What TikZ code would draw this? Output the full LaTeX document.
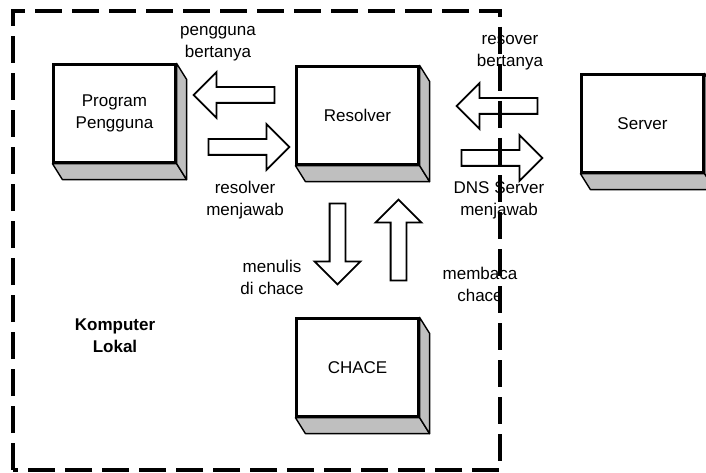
\documentclass[tikz,border=0pt]{standalone}
\usepackage{fontspec}
\setmainfont{Liberation Sans}
\usetikzlibrary{calc,shapes.arrows}

\tikzset{
  every node/.style={font=\fontsize{17}{22}\selectfont},
  box/.style={draw,line width=2.2pt,fill=white,minimum width=122pt,minimum height=98pt,inner sep=0pt},
  slab/.style={draw,line width=1.4pt,fill=black!25,line join=round},
  blockarrow/.style={single arrow,draw,line width=1.8pt,fill=white,inner xsep=0pt,inner ysep=7pt,
    single arrow head extend=15pt,minimum height=81pt},
  lbl/.style={align=center,inner sep=0pt}
}

% grey bottom and side faces under a box
\newcommand{\slab}[1]{%
  \draw[slab] (#1.south west) -- ($(#1.south west)+(10,16)$) -- ($(#1.south east)+(10,16)$) -- (#1.south east) -- cycle;
  \draw[slab] (#1.north east) -- ($(#1.north east)+(10,16)$) -- ($(#1.south east)+(10,16)$) -- (#1.south east) -- cycle;
}

\begin{document}
\begin{tikzpicture}[x=1pt,y=-1pt]
  \useasboundingbox (0,0) rectangle (706,473);
  \clip (0,0) rectangle (706,473);

  \node[box] (prog) at (114.5,113.5) {};
  \slab{prog}
  \node[lbl] at (prog) {Program\\Pengguna};

  \node[box] (res) at (357.5,115.5) {};
  \slab{res}
  \node[lbl] at (res) {Resolver};

  \node[box] (srv) at (642.5,123.5) {};
  \slab{srv}
  \node[lbl] at (srv) {Server};

  \node[box] (cache) at (357.5,367.5) {};
  \slab{cache}
  \node[lbl] at (cache) {CHACE};

  % arrows between the boxes
  \node[blockarrow,rotate=180] (ask) at (238,95) {};
  \node[blockarrow] (answer) at (245,147) {};
  \node[blockarrow,rotate=180] (dnsask) at (501,106) {};
  \node[blockarrow] (dnsanswer) at (498,158) {};
  \node[blockarrow,rotate=-90] (write) at (337.5,240) {};
  \node[blockarrow,rotate=90] (read) at (398.5,244) {};

  \node[lbl] (askl) at (218,44) {pengguna\\bertanya};
  \node[lbl] (answerl) at (245,200) {resolver\\menjawab};
  \node[lbl] (dnsaskl) at (510,53) {resover\\bertanya};
  \node[lbl] (dnsanswerl) at (499,200) {DNS Server\\menjawab};
  \node[lbl] (writel) at (272,277) {menulis\\di chace};
  \node[lbl] (readl) at (480,284) {membaca\\chace};
  \node[lbl,font=\fontsize{17}{22}\selectfont\bfseries] (local) at (115,336) {Komputer\\Lokal};

  % local computer boundary
  \draw[line width=4pt,dash pattern=on 27pt off 10pt] (13,470) -- (13,11) -- (500,11) -- (500,470) -- cycle;
\end{tikzpicture}
\end{document}
